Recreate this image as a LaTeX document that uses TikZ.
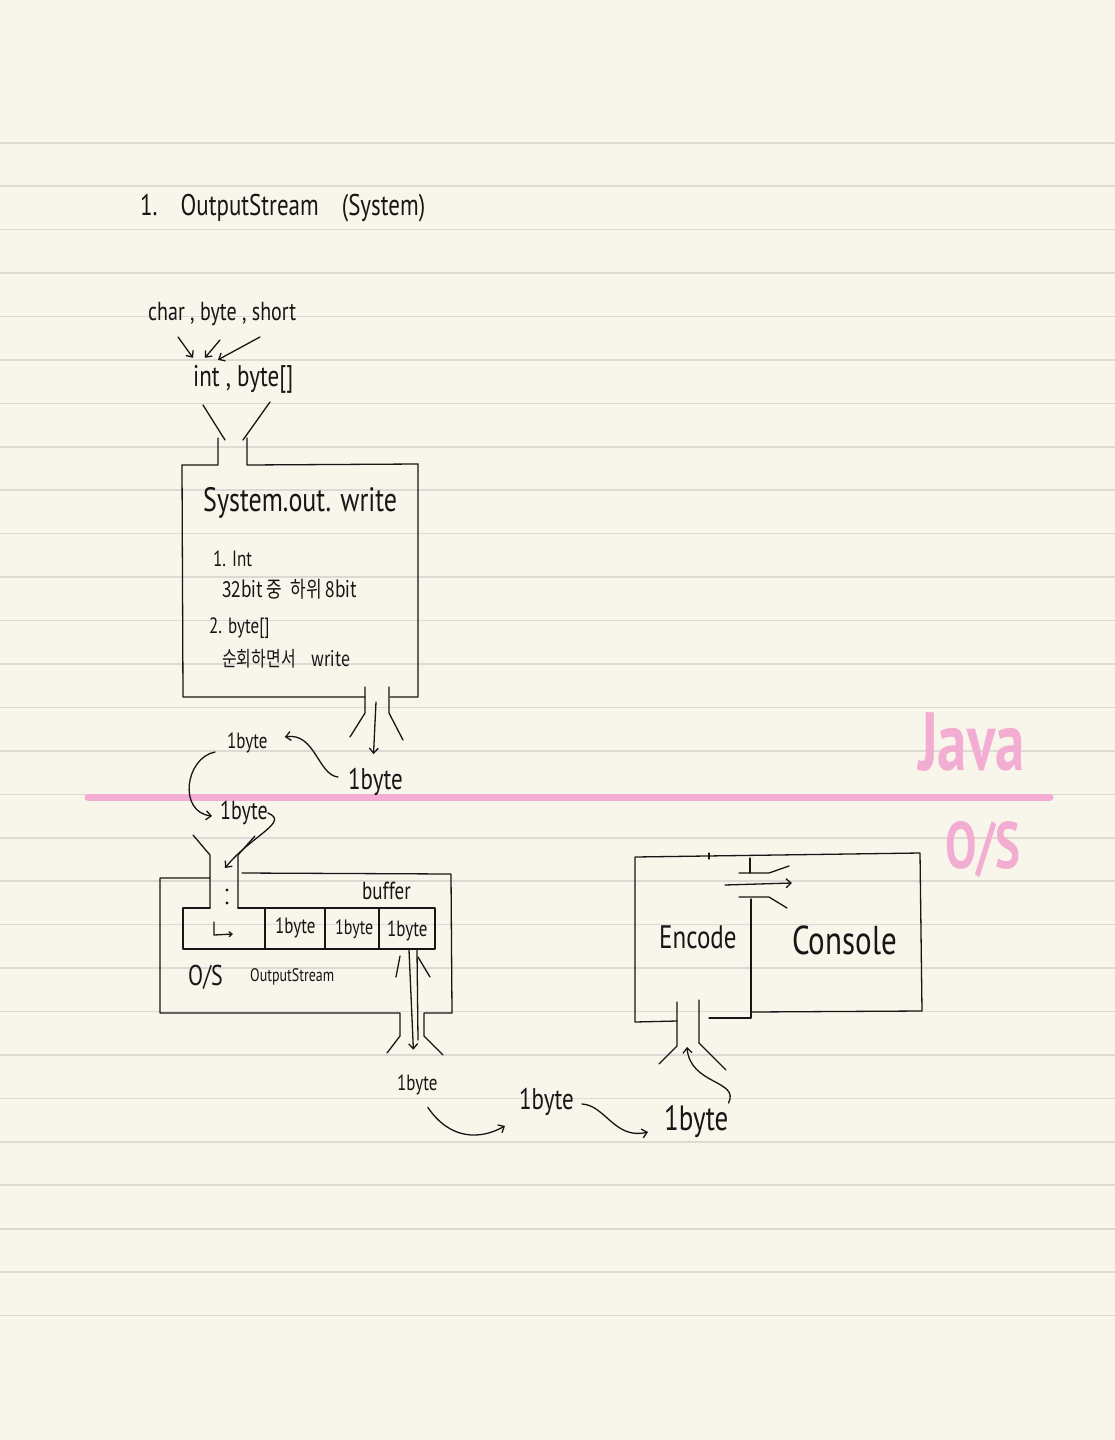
\documentclass[tikz,border=0pt]{standalone}
\usepackage{fontspec}
\setmainfont{PT Sans}
\newfontfamily\krfont{Noto Sans CJK KR}
\usetikzlibrary{positioning,calc,arrows.meta}
\definecolor{paper}{RGB}{248,246,234}
\definecolor{ruleline}{RGB}{221,218,213}
\definecolor{ink}{RGB}{22,22,22}
\definecolor{javapink}{RGB}{243,172,210}
\newcommand{\hw}[1]{\scalebox{1}[1.3]{#1}}
\newcommand{\hwpink}[1]{\scalebox{1}[1.4]{\bfseries #1}}

\begin{document}
\begin{tikzpicture}[x=1pt, y=-1pt,
        hand/.style={font=\fontsize{#1}{#1}\selectfont, inner sep=0pt, anchor=west, text=ink},
        krhand/.style={font=\krfont\fontsize{#1}{#1}\selectfont, inner sep=0pt, anchor=west, text=ink},
        pen/.style={draw=ink, line width=1.3pt, line join=round, line cap=round},
        arrow/.style={pen, -{Straight Barb[length=5pt, width=9pt]}},
        pinkline/.style={draw=javapink, line width=7pt, line cap=round},
        rule/.style={draw=ruleline, line width=1.6pt},
      ]
      \fill [paper] (0,0) rectangle (1115,1440);
      \useasboundingbox (0,0) rectangle (1115,1440);
      \foreach \i in {0,...,27}
        \draw [rule] (0,{142.7+43.44*\i}) -- (1115,{142.7+43.44*\i});
      \draw [pinkline] (88,797) -- (1050,797);

      \node [hand=23] (title) at (140,208) {\hw{1.\quad OutputStream\quad (System)}};
      \node [hand=20] (types) at (148,314) {\hw{char , byte , short}};
      \node [hand=23] (ints) at (193,379) {\hw{int , byte[]}};
      \node [hand=26] (sysname) at (203,503) {\hw{System.out. write}};
      \node [hand=17] (item1) at (213,559) {\hw{1. Int}};
      \node [krhand=17] (item1d) at (222,589) {\hw{32bit 중\enspace 하위 8bit}};
      \node [hand=17] (item2) at (209,628) {\hw{2. byte[]}};
      \node [krhand=16] (item2d) at (222,659) {\hw{순회하면서\quad write}};
      \node [hand=17] (byteA) at (227,743) {\hw{1byte}};
      \node [hand=23] (byteB) at (348,782) {\hw{1byte}};
      \node [hand=20] (byteC) at (220,813) {\hw{1byte}};
      \node [hand=19] (buffer) at (362,891) {\hw{buffer}};
      \node [hand=17] (cellA) at (275,928) {\hw{1byte}};
      \node [hand=16] (cellB) at (335,929) {\hw{1byte}};
      \node [hand=17] (cellC) at (387,931) {\hw{1byte}};
      \node [hand=22] (osname) at (188,977) {\hw{O/S}};
      \node [hand=14] (osstream) at (250,977) {\hw{OutputStream}};
      \node [hand=17] (byteD) at (397,1085) {\hw{1byte}};
      \node [hand=23] (byteE) at (519,1102) {\hw{1byte}};
      \node [hand=27] (byteF) at (664,1122) {\hw{1byte}};
      \node [hand=25] (encode) at (659,937) {\hw{Encode}};
      \node [hand=31] (console) at (792,940) {\hw{Console}};
      \node [hand=59, text=javapink] (java) at (918,742) {\hwpink{Java}};
      \node [hand=47, text=javapink] (os) at (945,850) {\hwpink{O/S}};

      % System.out.write box
      \draw [pen] (203,405) -- (225,440);
      \draw [pen] (270,402) -- (243,440);
      \draw [pen] (218,438) -- (218,465) -- (182,465) -- (183,697) -- (365,697);
      \draw [pen] (247,438) -- (247,465) -- (418,464) -- (418,697) -- (390,697);
      \draw [pen] (365,687) -- (365,713) -- (350,737);
      \draw [pen] (389,687) -- (389,713) -- (403,740);
      \coordinate (sysOut) at (376,702);

      % O/S OutputStream box
      \draw [pen] (193,835) -- (210,855) -- (210,908);
      \draw [pen] (210,878) -- (160,878) -- (160,1013) -- (400,1013) -- (400,1036) -- (387,1053);
      \draw [pen] (255,836) -- (238,855) -- (238,908);
      \draw [pen] (242,873) -- (451,874) -- (452,1013) -- (424,1013) -- (424,1036) -- (443,1055);
      \draw [pen] (210,908) -- (183,908) -- (183,949) -- (435,949) -- (435,908) -- (238,908);
      \foreach \x in {265,325,379}
        \draw [pen] (\x,908) -- (\x,949);
      \fill [ink] (227,890) circle (1.6);
      \fill [ink] (227,903) circle (1.6);
      \draw [pen, -{Straight Barb[length=3pt, width=5pt]}] (214,922) -- (214,935) -- (233,934);
      \draw [pen] (400,956) -- (396,977);
      \draw [pen] (418,957) -- (430,977);
      \draw [pen] (417,950) -- (418,1040);
      \coordinate (bufOut) at (409,950);
      \coordinate (pipeIn) at (225,868);

      % Encode / Console box
      \draw [pen] (677,1002) -- (677,1021) -- (635,1022) -- (635,857) -- (920,853) -- (922,1011) -- (751,1012);
      \draw [pen] (751,899) -- (751,1018) -- (709,1018);
      \draw [pen] (677,1021) -- (677,1046) -- (659,1064);
      \draw [pen] (699,1000) -- (699,1043) -- (726,1070);
      \draw [pen] (709,853) -- (709,859);
      \draw [pen] (750,858) -- (750,873);
      \draw [pen] (739,873) -- (769,873) -- (789,866);
      \draw [pen] (739,897) -- (769,897) -- (787,908);
      \coordinate (encOut) at (725,885);
      \coordinate (conIn) at (792,883);
      \coordinate (encIn) at (687,1047);

      \draw [arrow] ([shift={(30,11)}]types.south west) -- ([shift={(0,-7)}]ints.north west);
      \draw [arrow] ([shift={(72,14)}]types.south west) -- ([shift={(12,-7)}]ints.north west);
      \draw [arrow] ([shift={(112,11)}]types.south west) -- ([shift={(25,-5)}]ints.north west);
      \draw [arrow] (sysOut) -- ([shift={(-2,-14)}]byteB.north);
      \draw [arrow] ([shift={(-10,-5)}]byteB.west) .. controls (318,775) and (315,732) .. ([shift={(17,-6)}]byteA.east);
      \draw [arrow] ([shift={(-12,9)}]byteA.west) .. controls (185,758) and (178,812) .. ([shift={(-8,3)}]byteC.west);
      \draw [arrow] (byteC.east) .. controls (290,822) and (252,835) .. (pipeIn);
      \draw [arrow] (bufOut) -- ([shift={(-4,-25)}]byteD.north);
      \draw [arrow] ([shift={(-10,12)}]byteD.south east) .. controls (450,1140) and (480,1140) .. ([shift={(-14,10)}]byteE.south west);
      \draw [arrow] ([shift={(8,2)}]byteE.east) .. controls (605,1105) and (615,1140) .. ([shift={(-16,10)}]byteF.west);
      \draw [arrow] ([shift={(0,-19)}]byteF.east) .. controls (740,1080) and (690,1085) .. (encIn);
      \draw [arrow] (encOut) -- (conIn);
    \end{tikzpicture}
\end{document}
